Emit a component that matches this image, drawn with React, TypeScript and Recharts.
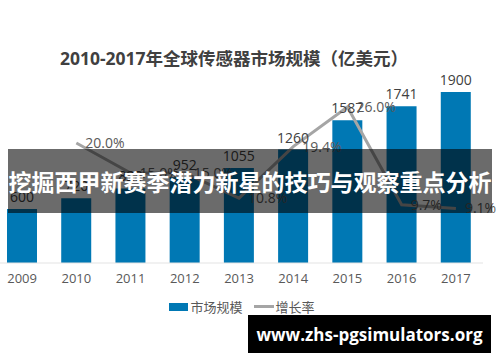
import React from 'react';
import { ComposedChart, Bar, Line, XAxis, YAxis, LabelList } from 'recharts';

const years = ['2009', '2010', '2011', '2012', '2013', '2014', '2015', '2016', '2017'];
const marketSize = [600, 720, 828, 952, 1055, 1260, 1587, 1741, 1900];
const growthRate = [null, 0.2, 0.15, 0.15, 0.108, 0.194, 0.26, 0.097, 0.091];

const chartData = years.map((y, i) => ({ year: y, market: marketSize[i], growth: growthRate[i] }));

const FONT = '"Open Sans", "Noto Sans CJK SC", sans-serif';

const pct = (v: any) => (v == null ? '' : (v * 100).toFixed(1) + '%');

export default function App() {
  return (
    <div style={{ position: 'fixed', left: 0, top: 0, width: 500, height: 362, background: '#fff', overflow: 'hidden', fontFamily: FONT }}>
      <div style={{ position: 'absolute', left: 0, width: 468, top: 45, textAlign: 'center', fontSize: 17.5, fontWeight: 700, color: '#404040', whiteSpace: 'nowrap' }}>
        2010-2017年全球传感器市场规模（亿美元）
      </div>
      <div style={{ position: 'absolute', left: -5, top: 0 }}>
        <ComposedChart width={515} height={362} data={chartData} margin={{ top: 83, right: 27, left: 0, bottom: 69 }}>
          <XAxis dataKey="year" axisLine={{ stroke: '#e3e3e3' }} tickLine={false} tickSize={0} tickMargin={11}
            tick={{ fill: '#595959', fontSize: 13, fontFamily: FONT }} height={30} />
          <YAxis yAxisId="left" domain={[0, 2000]} hide />
          <YAxis yAxisId="right" orientation="right" domain={[0, 0.3]} hide />
          <Bar yAxisId="left" dataKey="market" fill="#0078b4" barSize={30} isAnimationActive={false}>
            <LabelList dataKey="market" position="top" offset={7} fill="#404040" fontSize={14} fontFamily={FONT} />
          </Bar>
          <Line yAxisId="right" dataKey="growth" stroke="#a5a5a5" strokeWidth={3} dot={false} isAnimationActive={false}>
            <LabelList dataKey="growth" position="right" offset={9} fill="#595959" fontSize={14} fontFamily={FONT} formatter={pct} />
          </Line>
        </ComposedChart>
      </div>
      <div style={{ position: 'absolute', left: 0, width: 484, top: 297, display: 'flex', justifyContent: 'center', alignItems: 'center', fontSize: 13, color: '#595959' }}>
        <span style={{ display: 'inline-block', width: 19, height: 8, background: '#0078b4', marginRight: 2 }} />
        <span style={{ marginRight: 11 }}>市场规模</span>
        <span style={{ display: 'inline-block', width: 20, height: 3, background: '#a5a5a5', marginRight: 2 }} />
        <span>增长率</span>
      </div>
      <div style={{ position: 'absolute', left: 8, top: 149, width: 484, height: 64, background: 'rgba(0,0,0,0.58)', display: 'flex', alignItems: 'center', justifyContent: 'center', color: '#fff', fontSize: 23, fontWeight: 700, fontFamily: '"Noto Sans CJK SC", sans-serif', whiteSpace: 'nowrap' }}>
        挖掘西甲新赛季潜力新星的技巧与观察重点分析
      </div>
      <div style={{ position: 'absolute', left: 248, top: 315, width: 243, height: 38, background: '#000', display: 'flex', alignItems: 'center', justifyContent: 'center', color: '#fff', fontSize: 17, fontWeight: 700, fontFamily: FONT }}>
        www.zhs-pgsimulators.org
      </div>
    </div>
  );
}
